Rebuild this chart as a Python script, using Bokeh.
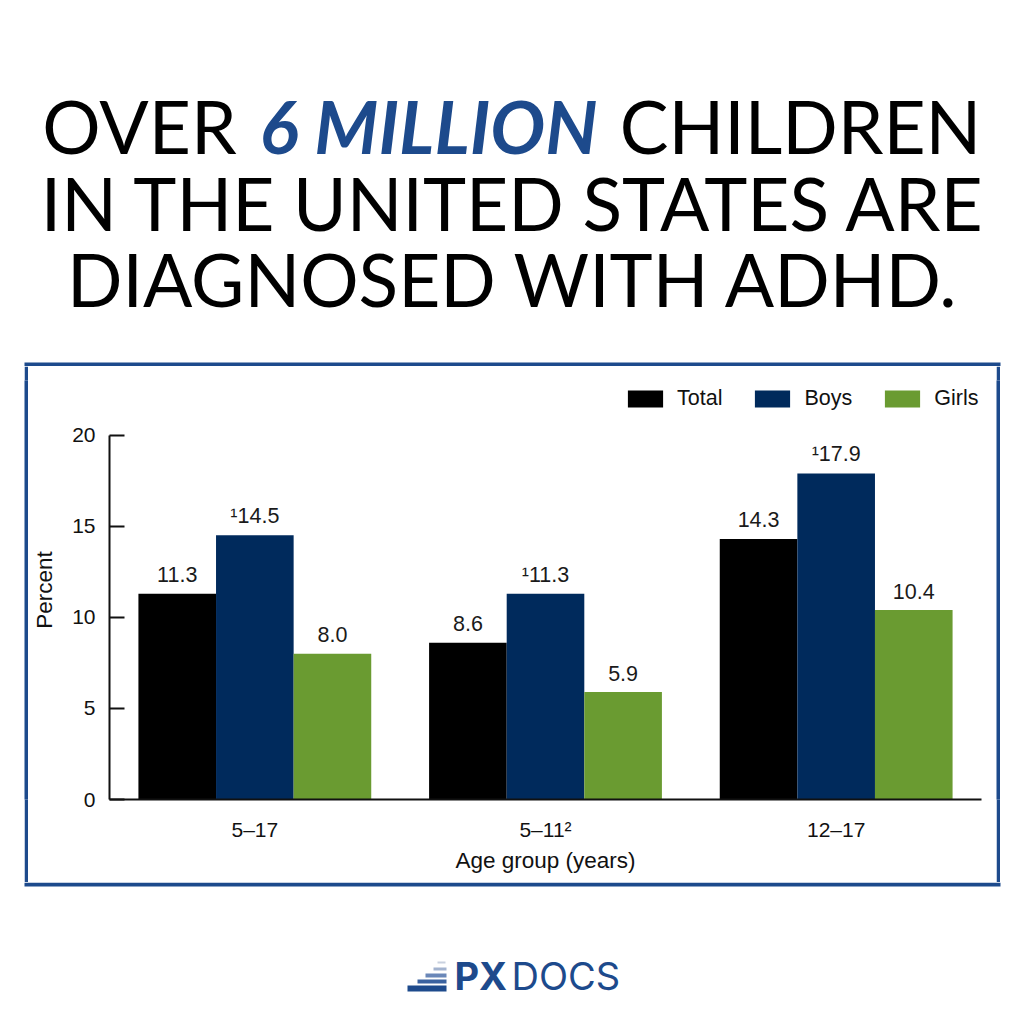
from bokeh.plotting import figure
from bokeh.layouts import column, row
from bokeh.models import FactorRange, Range1d, FixedTicker, ColumnDataSource, Spacer
from bokeh.transform import dodge
from bokeh.core.properties import value
from bokeh.embed import file_html
from bokeh.resources import INLINE

# ---- data ----
age_groups = ["5–17", "5–11²", "12–17"]
series_names = ["Total", "Boys", "Girls"]
total = [11.3, 8.6, 14.3]
boys = [14.5, 11.3, 17.9]
girls = [8.0, 5.9, 10.4]
boys_note = "¹"
y_ticks = [0, 5, 10, 15, 20]

colors = {"Total": "#000000", "Boys": "#002a5c", "Girls": "#6a9b31"}
BLUE = "#1d4a8c"
FONT = "Liberation Sans"
TF = "Lato"
W = 1008


def blank(width, height, x_range, y_range, fill="white"):
    f = figure(width=width, height=height, x_range=x_range, y_range=y_range,
               output_backend="svg", toolbar_location=None,
               x_axis_location=None, y_axis_location=None, min_border=0)
    f.grid.visible = False
    f.outline_line_color = None
    f.background_fill_color = fill
    f.border_fill_color = fill
    return f


# ---------- headline (page-pixel layout space, y downward) ----------
TOP_H = 366
head = blank(W, TOP_H, Range1d(0, W), Range1d(TOP_H, 0))
head_src = ColumnDataSource(dict(
    x=[139, 800, 513.5, 513],
    y=[125.5, 125.5, 202.5, 278.5],
    t=["OVER", "CHILDREN", "IN THE UNITED STATES ARE", "DIAGNOSED WITH ADHD."],
))
head.text(x="x", y="y", text="t", source=head_src, text_align="center",
          text_baseline="alphabetic", text_font=value(TF), text_font_size="73px",
          text_color="#000000")
head.text(x=[428], y=[125.5], text=["6 MILLION"], text_align="center",
          text_baseline="alphabetic", text_font=value(TF), text_font_size="73px",
          text_font_style="bold italic", text_color=BLUE)
# top edge of the chart frame box
head.quad(left=[24], right=[1000], top=[362], bottom=[366], fill_color=BLUE, line_color=None)

# ---------- chart ----------
src = ColumnDataSource(dict(
    x=age_groups,
    Total=total, Boys=boys, Girls=girls,
    Total_lbl=[f"{v:.1f}" for v in total],
    Boys_lbl=[boys_note + f"{v:.1f}" for v in boys],
    Girls_lbl=[f"{v:.1f}" for v in girls],
))

MID_H = 516
p = figure(width=968, height=MID_H, x_range=FactorRange(*age_groups), y_range=Range1d(0, 23),
           output_backend="svg", toolbar_location=None,
           min_border_left=81, min_border_right=15, min_border_top=14, min_border_bottom=83)
p.outline_line_color = None
p.xgrid.visible = False
p.ygrid.visible = False
p.background_fill_color = "white"
p.border_fill_color = "white"

w = 0.267
offsets = [-w, 0.0, w]
for name, off in zip(series_names, offsets):
    p.vbar(x=dodge("x", off, range=p.x_range), top=name, width=w, source=src,
           fill_color=colors[name], line_color=None, legend_label=name)
    p.text(x=dodge("x", off, range=p.x_range), y=name, text=name + "_lbl", source=src,
           text_align="center", text_baseline="alphabetic", y_offset=-19,
           text_font=value(FONT), text_font_size="21.5px", text_color="#1a1a1a")

p.yaxis.ticker = FixedTicker(ticks=y_ticks)
p.yaxis.bounds = (0, 20)
p.yaxis.axis_line_width = 2
p.yaxis.major_tick_line_width = 2
p.yaxis.major_tick_in = 15
p.yaxis.major_tick_out = 0
p.yaxis.minor_tick_line_color = None
p.yaxis.major_label_standoff = 14
p.yaxis.axis_label = "Percent"
p.yaxis.axis_label_standoff = 12
for ax in (p.xaxis, p.yaxis):
    ax.major_label_text_font = FONT
    ax.major_label_text_font_size = "21px"
    ax.major_label_text_color = "#111111"
    ax.axis_label_text_font = FONT
    ax.axis_label_text_font_size = "22.5px"
    ax.axis_label_text_font_style = "normal"
    ax.axis_label_text_color = "#111111"
    ax.axis_line_color = "#111111"
    ax.major_tick_line_color = "#111111"
p.xaxis.axis_line_width = 2
p.xaxis.major_tick_line_color = None
p.xaxis.major_label_standoff = 12
p.xaxis.axis_label = "Age group (years)"
p.xaxis.axis_label_standoff = 4

lg = p.legend[0]
lg.orientation = "horizontal"
lg.location = (514, 388)
lg.padding = 0
lg.margin = 0
lg.spacing = 28
lg.glyph_width = 44
lg.glyph_height = 21
lg.label_standoff = 10
lg.border_line_color = None
lg.background_fill_alpha = 0
lg.label_text_font = FONT
lg.label_text_font_size = "21.5px"
lg.label_text_color = "#111111"

side_l = blank(4, MID_H, Range1d(0, 1), Range1d(0, 1), fill=BLUE)
side_r = blank(4, MID_H, Range1d(0, 1), Range1d(0, 1), fill=BLUE)
middle = row(Spacer(width=24, height=MID_H), side_l, p, side_r, Spacer(width=8, height=MID_H))

# ---------- footer with logo ----------
BOT_Y0 = TOP_H + MID_H
BOT_H = 1008 - BOT_Y0
foot = blank(W, BOT_H, Range1d(0, W), Range1d(1008, BOT_Y0))
foot.quad(left=[24], right=[1000], top=[BOT_Y0], bottom=[BOT_Y0 + 4], fill_color=BLUE, line_color=None)
logo_src = ColumnDataSource(dict(
    left=[407, 417, 425, 433, 437],
    right=[446, 446, 446, 446, 445],
    top=[985, 979, 973, 967, 961],
    bottom=[991, 983, 977, 970, 963],
    c=["#1d4a8c", "#3a62a0", "#6a87b8", "#a3b3cf", "#c9d1df"],
))
foot.quad(left="left", right="right", top="top", bottom="bottom", fill_color="c",
          line_color=None, source=logo_src)
foot.text(x=[454], y=[975.5], text=["PX"], text_align="left", text_baseline="alphabetic",
          text_font=value("Inter"), text_font_size="38px", text_font_style="bold", text_color=BLUE)
foot.text(x=[511], y=[975.5], text=["DOCS"], text_align="left", text_baseline="alphabetic",
          text_font=value("Inter"), text_font_size="38px", text_color=BLUE)

layout = column(head, middle, foot)
open("out.html", "w").write(file_html(layout, INLINE))
